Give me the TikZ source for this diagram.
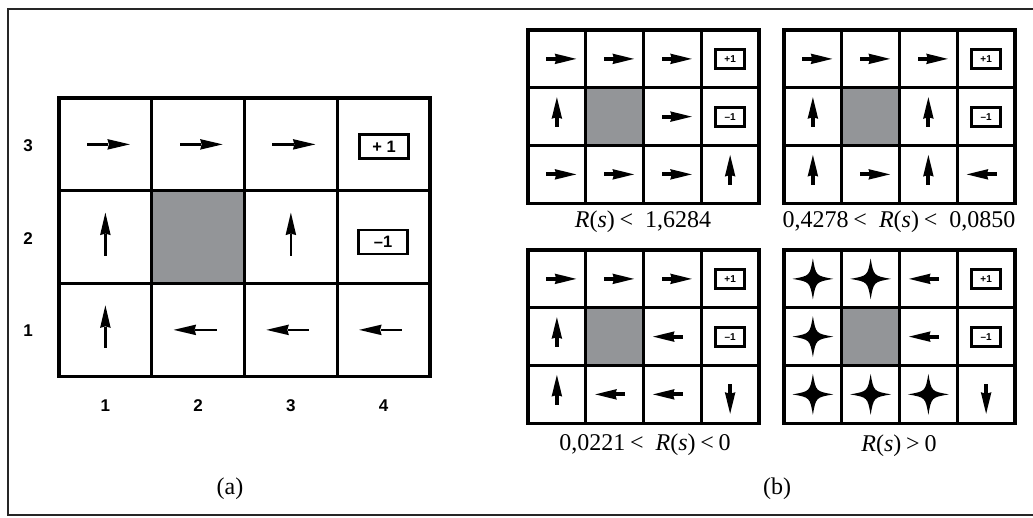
\documentclass[tikz,border=0pt]{standalone}
\usepackage{fontspec}
\setmainfont{Liberation Serif}
\newfontfamily\hv{Liberation Sans}
\definecolor{wallgray}{RGB}{147,149,152}
\tikzset{
  bigarr/.pic={\fill (-18.5,-1.3) rectangle (3,1.3); \fill (24.5,0) -- (2,-5.3) -- (3.5,0) -- (2,5.3) -- cycle;},
  smallarr/.pic={\fill (-10.6,-2) rectangle (0.5,2); \fill (19.4,0) -- (-2.2,-5.3) -- (-0.6,0) -- (-2.2,5.3) -- cycle;},
  fourstar/.pic={\fill (20.5,0) .. controls (3,3) .. (0,20.5) .. controls (-3,3) .. (-20.5,0) .. controls (-3,-3) .. (0,-20.5) .. controls (3,-3) .. (20.5,0) -- cycle;},
  lbl/.style={font=\fontsize{24}{28}\selectfont, inner sep=0pt},
  axlbl/.style={font=\hv\bfseries\fontsize{17}{20}\selectfont, inner sep=0pt},
  bigbox/.style={draw, line width=2.7, minimum width=49, minimum height=24, inner sep=0pt, font=\hv\bfseries\fontsize{16.5}{18}\selectfont},
  smallbox/.style={draw, line width=3, minimum width=29, minimum height=19, inner sep=0pt, font=\hv\bfseries\fontsize{10}{11}\selectfont},
}
% grid: x0 y0 cell innerlw outerlw
\newcommand\mkgrid[5]{%
  \fill[wallgray] ({#1+#3},{#2+#3}) rectangle ({#1+2*#3},{#2+2*#3});
  \foreach \i in {1,2,3} {\draw[line width=#4] ({#1+\i*#3},#2) -- ({#1+\i*#3},{#2+3*#3});}
  \foreach \j in {1,2} {\draw[line width=#4] (#1,{#2+\j*#3}) -- ({#1+4*#3},{#2+\j*#3});}
  \draw[line width=#5] (#1,#2) rectangle ({#1+4*#3},{#2+3*#3});
}
% item: col row rotation picname (uses \gx \gy \cs)
\newcommand\Item[4]{\pic[rotate=#3] at ({\gx+(#1-0.5)*\cs},{\gy+(3.5-#2)*\cs}) {#4};}
\newcommand\Boxes[1]{%
  \node[smallbox] (#1p) at ({\gx+3.5*\cs},{\gy+0.5*\cs}) {+1};
  \node[smallbox] (#1m) at ({\gx+3.5*\cs},{\gy+1.5*\cs}) {–1};
}
\begin{document}
\begin{tikzpicture}[x=1pt,y=-1pt]
\useasboundingbox (0,0) rectangle (1033,517);
\fill[white] (0,0) rectangle (1033,517);
\draw[line width=1.2, black!85] (8,9) rectangle (1045,515);

% ---------- (a) ----------
\mkgrid{59}{98}{92.75}{2.8}{3.3}
\def\gx{59}\def\gy{98}\def\cs{92.75}
\Item{1}{3}{0}{bigarr}\Item{2}{3}{0}{bigarr}\Item{3}{3}{0}{bigarr}
\Item{1}{2}{90}{bigarr}\Item{3}{2}{90}{bigarr}
\Item{1}{1}{90}{bigarr}\Item{2}{1}{180}{bigarr}\Item{3}{1}{180}{bigarr}\Item{4}{1}{180}{bigarr}
\node[bigbox] (ap) at (384,146.5) {+ 1};
\node[bigbox] (am) at (383,242) {–1};
\node[axlbl] (r3) at (28,146) {3};
\node[axlbl] (r2) at (28,239) {2};
\node[axlbl] (r1) at (28,331) {1};
\node[axlbl] (c1) at (105.4,406) {1};
\node[axlbl] (c2) at (198.1,406) {2};
\node[axlbl] (c3) at (290.9,406) {3};
\node[axlbl] (c4) at (383.6,406) {4};
\node[lbl] (la) at (230,489) {(a)};

% ---------- (b) grid 1 ----------
\mkgrid{528}{30}{57.75}{2.7}{3.3}
\def\gx{528}\def\gy{30}\def\cs{57.75}
\Item{1}{3}{0}{smallarr}\Item{2}{3}{0}{smallarr}\Item{3}{3}{0}{smallarr}
\Item{1}{2}{90}{smallarr}\Item{3}{2}{0}{smallarr}
\Item{1}{1}{0}{smallarr}\Item{2}{1}{0}{smallarr}\Item{3}{1}{0}{smallarr}\Item{4}{1}{90}{smallarr}
\Boxes{g1}
\node[lbl] (l1) at (643,222) {\textit{R}(\textit{s})\hspace{0.2em}<\hspace{0.5em}1,6284};

% ---------- (b) grid 2 ----------
\mkgrid{784}{30}{57.75}{2.7}{3.3}
\def\gx{784}\def\gy{30}
\Item{1}{3}{0}{smallarr}\Item{2}{3}{0}{smallarr}\Item{3}{3}{0}{smallarr}
\Item{1}{2}{90}{smallarr}\Item{3}{2}{90}{smallarr}
\Item{1}{1}{90}{smallarr}\Item{2}{1}{0}{smallarr}\Item{3}{1}{90}{smallarr}\Item{4}{1}{180}{smallarr}
\Boxes{g2}
\node[lbl] (l2) at (899,222) {0,4278\hspace{0.2em}<\hspace{0.5em}\textit{R}(\textit{s})\hspace{0.2em}<\hspace{0.5em}0,0850};

% ---------- (b) grid 3 ----------
\mkgrid{528}{250}{57.75}{2.7}{3.3}
\def\gx{528}\def\gy{250}
\Item{1}{3}{0}{smallarr}\Item{2}{3}{0}{smallarr}\Item{3}{3}{0}{smallarr}
\Item{1}{2}{90}{smallarr}\Item{3}{2}{180}{smallarr}
\Item{1}{1}{90}{smallarr}\Item{2}{1}{180}{smallarr}\Item{3}{1}{180}{smallarr}\Item{4}{1}{270}{smallarr}
\Boxes{g3}
\node[lbl] (l3) at (645,445) {0,0221\hspace{0.2em}<\hspace{0.5em}\textit{R}(\textit{s})\hspace{0.2em}<\hspace{0.2em}0};

% ---------- (b) grid 4 ----------
\mkgrid{784}{250}{57.75}{2.7}{3.3}
\def\gx{784}\def\gy{250}
\Item{1}{3}{0}{fourstar}\Item{2}{3}{0}{fourstar}\Item{3}{3}{180}{smallarr}
\Item{1}{2}{0}{fourstar}\Item{3}{2}{180}{smallarr}
\Item{1}{1}{0}{fourstar}\Item{2}{1}{0}{fourstar}\Item{3}{1}{0}{fourstar}\Item{4}{1}{270}{smallarr}
\Boxes{g4}
\node[lbl] (l4) at (899,446) {\textit{R}(\textit{s})\hspace{0.2em}>\hspace{0.2em}0};

\node[lbl] (lb) at (777,489) {(b)};
\end{tikzpicture}
\end{document}
